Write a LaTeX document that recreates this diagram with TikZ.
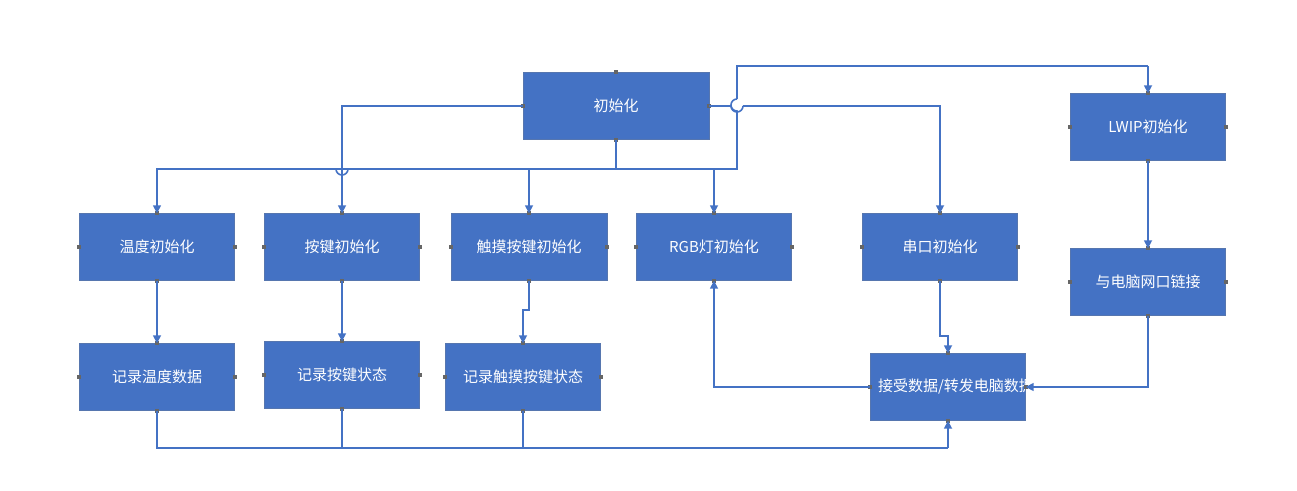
\documentclass[tikz,border=0pt]{standalone}
\usepackage{fontspec}
\setmainfont{Noto Sans CJK SC}
\usetikzlibrary{arrows.meta}
\definecolor{bx}{HTML}{4472C4}
\begin{document}
\begin{tikzpicture}[x=1pt,y=-1pt,
  box/.style={draw=bx!70!gray,fill=bx,text=white,minimum width=155pt,minimum height=67pt,inner sep=2pt,text width=140pt,align=center,font=\fontsize{15pt}{19pt}\selectfont},
  ln/.style={draw=bx,line width=1.6pt},
  ar/.style={ln,-{Triangle[length=8pt,width=8pt]}}]
\useasboundingbox (0,0) rectangle (1297,490);
\node[box,minimum width=186pt] (init) at (616,106) {初始化};
\node[box] (lwip) at (1148,127) {LWIP初始化};
\node[box] (temp) at (157,247) {温度初始化};
\node[box] (key) at (342,247) {按键初始化};
\node[box,minimum width=156pt] (touch) at (529,247) {触摸按键初始化};
\node[box] (rgb) at (714,247) {RGB灯初始化};
\node[box] (ser) at (940,247) {串口初始化};
\node[box] (pc) at (1148,282) {与电脑网口链接};
\node[box] (rt) at (157,377) {记录温度数据};
\node[box] (rk) at (342,375) {记录按键状态};
\node[box] (rtc) at (523,377) {记录触摸按键状态};
\node[box] (rcv) at (948,387) {接受数据/转发电脑数据};
\foreach \n in {init,lwip,temp,key,touch,rgb,ser,pc,rt,rk,rtc,rcv}{
  \foreach \a in {north,south,east,west}{\fill[gray!80!black] (\n.\a) ++(-2,-2) rectangle ++(4,4);}}
% init bottom bus
\coordinate (b) at (616,169);
\draw[ln] (init.south) -- (b);
\draw[ar] (b) -- (157,169) -- (temp.north);
\draw[ln] (157,169) -- (336,169) arc[start angle=180,end angle=0,radius=6] -- (737,169) -- (737,111) arc[start angle=-90,end angle=90,radius=-6];
\draw[ln] (737,99) -- (737,66) -- (1148,66);
\draw[ar] (1148,66) -- (lwip.north);
\draw[ar] (529,169) -- (touch.north);
\draw[ar] (714,169) -- (rgb.north);
% init left / right
\draw[ar] (init.west) -- (342,106) -- (key.north);
\draw[ln] (init.east) -- (731,106) arc[start angle=180,end angle=0,radius=6];
\draw[ar] (743,106) -- (940,106) -- (ser.north);
% columns
\draw[ar] (temp.south) -- (rt.north);
\draw[ar] (key.south) -- (rk.north);
\draw[ar] (touch.south) -- (529,310) -- (523,310) -- (rtc.north);
\draw[ar] (lwip.south) -- (pc.north);
\draw[ar] (ser.south) -- (940,336) -- (948,336) -- (rcv.north);
\draw[ar] (pc.south) -- (1148,387) -- (rcv.east);
\draw[ar] (rcv.west) -- (714,387) -- (rgb.south);
% bottom bus
\draw[ln] (rt.south) -- (157,448) -- (948,448);
\draw[ln] (rk.south) -- (342,448);
\draw[ln] (rtc.south) -- (523,448);
\draw[ar] (948,448) -- (rcv.south);
\end{tikzpicture}
\end{document}
